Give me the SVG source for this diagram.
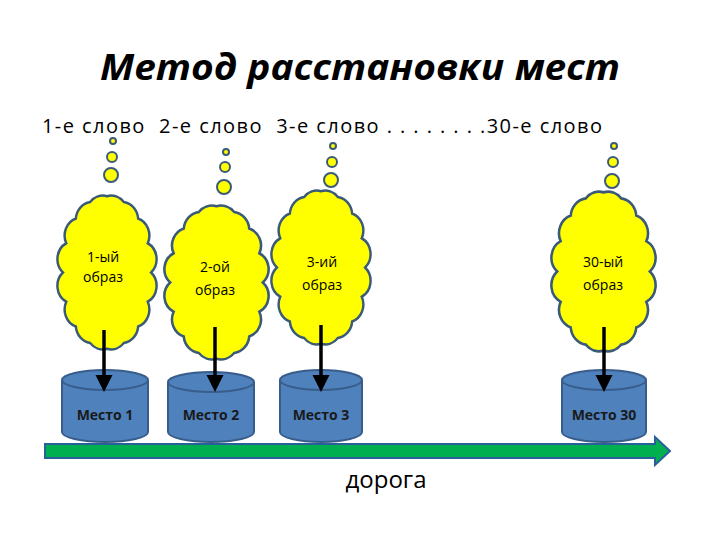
<svg xmlns="http://www.w3.org/2000/svg" width="720" height="540" viewBox="0 0 720 540">
<defs>
<style>
text{font-family:"Open Sans","Liberation Sans",sans-serif;fill:#000}
.cl{fill:#ffff00;stroke:#3a5a78;stroke-width:2.5}
.bb{fill:#ffff00;stroke:#3a5a78;stroke-width:2}
.cy{fill:#4f81bd;stroke:#385d8a;stroke-width:2}
.lb{font-size:14px;text-anchor:middle}
.ml{font-size:14px;text-anchor:middle;font-weight:bold;fill:#1a1a1a}
.ar{stroke:#000;stroke-width:3.5;marker-end:url(#ah)}
</style>
<marker id="ah" markerWidth="5" markerHeight="5" refX="3" refY="2.5" orient="auto"><path d="M0,0L5,2.5L0,5z" fill="#000"/></marker>
<path id="cloud" d="M95,75 A17 17 0 0 1 91.6,102.6 A17 17 0 0 1 81.8,125.9 A17 17 0 0 1 67.2,141.5 A17 17 0 0 1 50,147 A17 17 0 0 1 32.8,141.5 A17 17 0 0 1 18.2,125.9 A17 17 0 0 1 8.4,102.6 A17 17 0 0 1 5,75 A17 17 0 0 1 8.4,47.4 A17 17 0 0 1 18.2,24.1 A17 17 0 0 1 32.8,8.5 A17 17 0 0 1 50,3 A17 17 0 0 1 67.2,8.5 A17 17 0 0 1 81.8,24.1 A17 17 0 0 1 91.6,47.4 A17 17 0 0 1 95,75Z"/>
</defs>
<rect width="720" height="540" fill="#fff"/>
<text x="100" y="80" font-size="36" font-weight="bold" font-style="italic" textLength="520" lengthAdjust="spacingAndGlyphs">Метод расстановки мест</text>
<text x="42" y="133" font-size="20" textLength="560" xml:space="preserve">1-е слово  2-е слово  3-е слово . . . . . . . .30-е слово</text>
<g id="node1">
<circle class="bb" cx="113" cy="141" r="3"/><circle class="bb" cx="112" cy="157" r="5"/><circle class="bb" cx="111" cy="175" r="7"/>
<use href="#cloud" class="cl" transform="translate(58,193) scale(0.98,1.06)"/>
<text class="lb" x="103" y="262">1-ый</text><text class="lb" x="103" y="282">образ</text>
<path class="cy" d="M62,380 V432 A43 10 0 0 0 148,432 V380"/><ellipse class="cy" cx="105" cy="380" rx="43" ry="10"/>
<text class="ml" x="105" y="420">Место 1</text>
</g>
<g id="node2">
<circle class="bb" cx="226" cy="152" r="3"/><circle class="bb" cx="225" cy="167" r="5"/><circle class="bb" cx="224" cy="187" r="7"/>
<use href="#cloud" class="cl" transform="translate(165,203) scale(1.03,1.06)"/>
<text class="lb" x="215" y="272">2-ой</text><text class="lb" x="215" y="295">образ</text>
<path class="cy" d="M168,382 V432 A43 10 0 0 0 254,432 V382"/><ellipse class="cy" cx="211" cy="382" rx="43" ry="10"/>
<text class="ml" x="211" y="420">Место 2</text>
</g>
<g id="node3">
<circle class="bb" cx="333" cy="146" r="3"/><circle class="bb" cx="332" cy="162" r="5"/><circle class="bb" cx="331" cy="180" r="7"/>
<use href="#cloud" class="cl" transform="translate(272,188) scale(0.98,1.06)"/>
<text class="lb" x="322" y="267">3-ий</text><text class="lb" x="322" y="290">образ</text>
<path class="cy" d="M280,380 V432 A41 10 0 0 0 362,432 V380"/><ellipse class="cy" cx="321" cy="380" rx="41" ry="10"/>
<text class="ml" x="321" y="420">Место 3</text>
</g>
<g id="node4">
<circle class="bb" cx="614" cy="146" r="3"/><circle class="bb" cx="613" cy="162" r="5"/><circle class="bb" cx="612" cy="181" r="7"/>
<use href="#cloud" class="cl" transform="translate(552,189) scale(1.03,1.1)"/>
<text class="lb" x="603" y="267">30-ый</text><text class="lb" x="603" y="290">образ</text>
<path class="cy" d="M562,380 V432 A42 10 0 0 0 646,432 V380"/><ellipse class="cy" cx="604" cy="380" rx="42" ry="10"/>
<text class="ml" x="604" y="420">Место 30</text>
</g>
<g id="connectors">
<line class="ar" x1="104" y1="330" x2="104" y2="385"/>
<line class="ar" x1="215" y1="327" x2="215" y2="385"/>
<line class="ar" x1="321" y1="325" x2="321" y2="385"/>
<line class="ar" x1="604" y1="327" x2="604" y2="385"/>
<path d="M45,444 H655 V437 L670,451 L655,465 V458 H45Z" fill="#00b050" stroke="#2a6099" stroke-width="2"/>
</g>
<text x="386" y="488" font-size="24" text-anchor="middle">дорога</text>
</svg>
